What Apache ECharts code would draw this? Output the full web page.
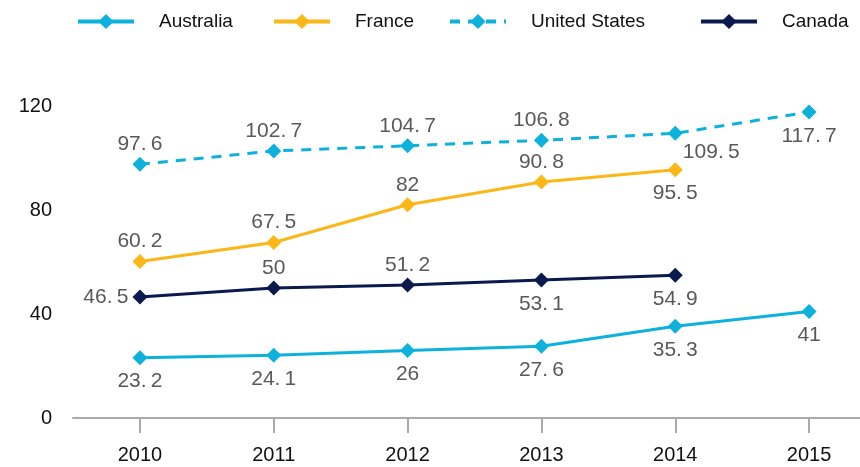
<!doctype html>
<html>
<head>
<meta charset="UTF-8">
<title>chart</title>
<style>
  html, body { margin: 0; padding: 0; background: #fff; }
  #main { width: 860px; height: 467px; }
</style>
</head>
<body>
<div id="main"></div>
<script src="https://cdn.jsdelivr.net/npm/echarts@6/dist/echarts.min.js"></script>
<script>
// data
var years = ['2010', '2011', '2012', '2013', '2014', '2015'];
var australia = [23.2, 24.1, 26, 27.6, 35.3, 41];
var france = [60.2, 67.5, 82, 90.8, 95.5, null];
var unitedStates = [97.6, 102.7, 104.7, 106.8, 109.5, 117.7];
var canada = [46.5, 50, 51.2, 53.1, 54.9, null];
var yTicks = [0, 40, 80, 120];

var cyan = '#0cb2dc';
var gold = '#fbb617';
var navy = '#0b1a4e';
var FONT = '"Liberation Sans", Arial, sans-serif';

// labels use a wide gap after the decimal point like the original
function fmt(p) {
  return String(p.value).replace('.', '.\u2009');
}

var labelBase = {
  show: true,
  color: '#595959',
  fontSize: 21,
  fontFamily: FONT,
  formatter: fmt,
  distance: 6
};

var TOP = { position: 'top', distance: 2 };
var BOTTOM = { position: 'bottom' };

function pts(values, labelFor) {
  return values.map(function (v, i) {
    if (v === null) return null;
    var item = { value: v };
    var l = labelFor(i);
    if (l) item.label = l;
    return item;
  });
}

function mkSeries(name, values, color, dashed, labelFor) {
  return {
    name: name,
    type: 'line',
    data: pts(values, labelFor),
    symbol: 'diamond',
    symbolSize: 15,
    color: color,
    itemStyle: { color: color },
    lineStyle: { color: color, width: 3, type: dashed ? [10, 8] : 'solid' },
    label: labelBase,
    z: 3
  };
}

function legendAt(name, x) {
  return {
    data: [name],
    left: x,
    top: 7,
    itemWidth: 56,
    itemHeight: 19,
    lineStyle: { width: 4 },
    textStyle: { color: '#111', fontSize: 19, fontFamily: FONT, padding: [0, 0, 0, 20] }
  };
}

var option = {
  animation: false,
  backgroundColor: '#fff',
  legend: [
    legendAt('Australia', 71),
    legendAt('France', 267),
    legendAt('United States', 443),
    legendAt('Canada', 694)
  ],
  grid: { left: 73, width: 803, top: 106, bottom: 49, outerBoundsMode: 'none', containLabel: false },
  xAxis: {
    type: 'category',
    data: years,
    boundaryGap: true,
    axisLine: { lineStyle: { color: '#aaaaaa', width: 2 } },
    axisTick: { show: true, alignWithLabel: true, length: 15, lineStyle: { color: '#aaaaaa', width: 2 } },
    axisLabel: { color: '#111', fontSize: 20, fontFamily: FONT, margin: 27 }
  },
  yAxis: {
    type: 'value',
    min: yTicks[0],
    max: yTicks[yTicks.length - 1],
    interval: 40,
    axisLine: { show: false },
    axisTick: { show: false },
    splitLine: { show: false },
    axisLabel: { color: '#111', fontSize: 20, fontFamily: FONT, margin: 21 }
  },
  series: [
    mkSeries('Australia', australia, cyan, false, function () {
      return BOTTOM;
    }),
    mkSeries('France', france, gold, false, function (i) {
      return i === 4 ? BOTTOM : TOP;
    }),
    mkSeries('United States', unitedStates, cyan, true, function (i) {
      if (i === 4) return { position: 'bottom', offset: [36, -5] };
      if (i === 5) return BOTTOM;
      return TOP;
    }),
    mkSeries('Canada', canada, navy, false, function (i) {
      if (i === 0) return { position: 'left', distance: 4 };
      if (i >= 3) return BOTTOM;
      return TOP;
    })
  ]
};

var chart = echarts.init(document.getElementById('main'));
chart.setOption(option);
</script>
</body>
</html>
